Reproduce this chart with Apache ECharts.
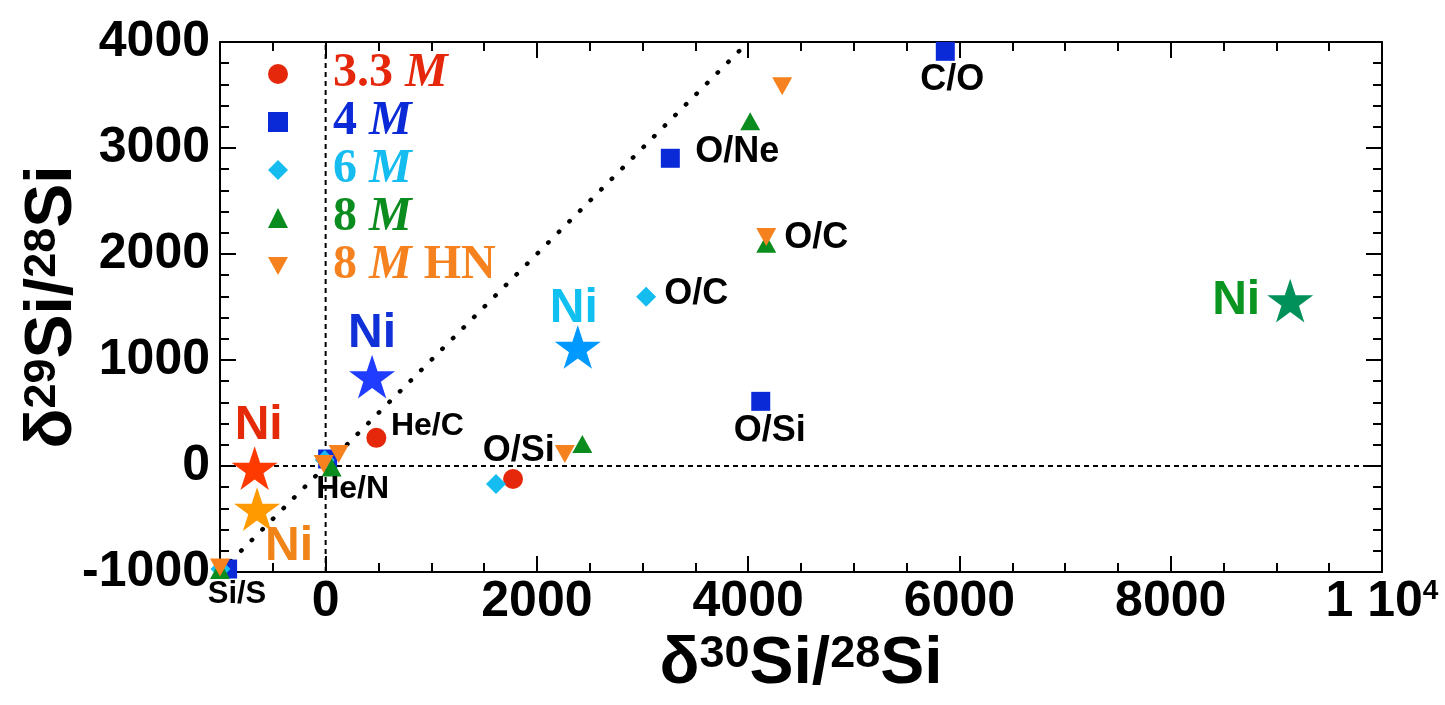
<!DOCTYPE html>
<html>
<head>
<meta charset="utf-8">
<script src="https://cdn.jsdelivr.net/npm/echarts@6/dist/echarts.min.js"></script>
<style>
  html, body { margin: 0; padding: 0; background: #fff; }
  #chart { width: 1445px; height: 705px; }
</style>
</head>
<body>
<div id="chart"></div>
<script>
// δ30Si / δ29Si (per mil) of the supernova zones for each progenitor model

const models = ['3.3 M', '4 M', '6 M', '8 M', '8 M HN'];

// zone compositions per model: x = δ30Si/28Si, y = δ29Si/28Si
const x33 = [480, 1774];
const y33 = [266, -123];
const zones33 = ['He/C', 'O/Si'];

const x4 = [19, 3263, 5866, 4119, -928];
const y4 = [66, 2903, 3912, 610, -972];
const zones4 = ['He/N', 'O/Ne', 'C/O', 'O/Si', 'Si/S'];

const x6 = [-9, 3034, 1613, -995];
const y6 = [57, 1597, -170, -972];
const zones6 = ['He/N', 'O/C', 'O/Si', 'Si/S'];

const x8 = [57, 4019, 4171, 2430, -1000];
const y8 = [-14, 3253, 2097, 208, -981];
const zones8 = ['He/N', 'O/Ne', 'O/C', 'O/Si', 'Si/S'];

const x8hn = [-19, 123, 4322, 4171, 2264, -1000];
const y8hn = [19, 113, 3582, 2160, 113, -958];
const zones8hn = ['He/N', 'He/C', 'O/Ne', 'O/C', 'O/Si', 'Si/S'];

// 56Ni-rich zone of each model
const niX = [-672, 440, 2387, 9131, -649];
const niY = [-19, 844, 1123, 1561, -406];

// axis ticks
const xTickLabels = [0, 2000, 4000, 6000, 8000, 10000];
const xMajorTicks = [0, 2000, 4000, 6000, 8000, 10000];
const yTickLabels = [-1000, 0, 1000, 2000, 3000, 4000];
const yMajorTicks = [-1000, 0, 1000, 2000, 3000, 4000];

// guide lines: δ29 = δ30, and the solar zero lines
const unityEnds = [-1000, 4000];

// ---- styling ----
const SANS = '"Liberation Sans", Arial, Helvetica, sans-serif';
const SERIF = '"Liberation Serif", "Times New Roman", serif';
const X_RANGE = [-1000, 10000];
const Y_RANGE = [-1000, 4000];

const markColors = ['#e5280b', '#0a2ad8', '#14bcef', '#0b8c1f', '#f5821e'];
const legendColors = ['#e5280b', '#0a2ad8', '#14bcef', '#0b8c1f', '#f5821e'];
const niStarColors = ['#ff3a00', '#1f3cff', '#0099ff', '#00915a', '#ff9a00'];
const niTextColors = ['#e52a0a', '#1030d8', '#10c0f0', '#0a9420', '#f08418'];
const niLabelOffsets = [[4, -42], [0, -43], [-4, -38], [-54, 0], [32, 38]];

// which zone names are printed, and where relative to their mark
const zoneLabelPlacement = {
  '3.3 M|He/C': { offset: [51, -12], size: 32 },
  '4 M|O/Ne': { offset: [67, -6], size: 36 },
  '4 M|C/O': { offset: [7, 29], size: 36 },
  '4 M|O/Si': { offset: [9, 30], size: 36 },
  '6 M|O/C': { offset: [50, -3], size: 36 },
  '8 M HN|O/C': { offset: [50, 1], size: 36 },
  '8 M HN|O/Si': { offset: [-46, -3], size: 36 },
  '8 M HN|He/N': { offset: [29, 25], size: 32 },
  '8 M HN|Si/S': { offset: [17, 27], size: 31 }
};

const DOWN_TRIANGLE = 'path://M0,0 L20,0 L10,18 Z';
const STAR = 'path://M50,0 L61.23,34.55 L97.55,34.55 L68.16,55.9 L79.39,90.45 L50,69.1 L20.61,90.45 L31.84,55.9 L2.45,34.55 L38.77,34.55 Z';

const seriesData = [
  { xs: x33, ys: y33, zones: zones33, symbol: 'circle', size: 20 },
  { xs: x4, ys: y4, zones: zones4, symbol: 'rect', size: 19 },
  { xs: x6, ys: y6, zones: zones6, symbol: 'diamond', size: 20 },
  { xs: x8, ys: y8, zones: zones8, symbol: 'triangle', size: [20, 18] },
  { xs: x8hn, ys: y8hn, zones: zones8hn, symbol: DOWN_TRIANGLE, size: [20, 18] }
];

function zonePoints(model, d) {
  return d.xs.map((x, i) => {
    const item = { value: [x, d.ys[i]], name: d.zones[i] };
    const place = zoneLabelPlacement[model + '|' + d.zones[i]];
    if (place) {
      item.label = {
        show: true,
        position: 'inside',
        offset: place.offset,
        formatter: d.zones[i],
        color: '#000',
        opacity: 1,
        fontFamily: SANS,
        fontWeight: 'bold',
        fontSize: place.size
      };
    }
    return item;
  });
}

const modelSeries = models.map((m, k) => ({
  name: m,
  type: 'scatter',
  clip: false,
  z: 5 + k,
  symbol: seriesData[k].symbol,
  symbolSize: seriesData[k].size,
  itemStyle: { color: markColors[k], opacity: 1 },
  emphasis: { disabled: true },
  data: zonePoints(m, seriesData[k])
}));

const niSeries = {
  name: 'Ni',
  type: 'scatter',
  clip: false,
  z: 12,
  symbol: STAR,
  symbolKeepAspect: true,
  symbolSize: 46,
  itemStyle: { opacity: 1 },
  emphasis: { disabled: true },
  data: niX.map((x, i) => ({
    value: [x, niY[i]],
    itemStyle: { color: niStarColors[i], opacity: 1 },
    label: {
      show: true,
      position: 'inside',
      offset: niLabelOffsets[i],
      formatter: 'Ni',
      color: niTextColors[i],
      opacity: 1,
      fontFamily: SANS,
      fontWeight: 'bold',
      fontSize: 48
    }
  }))
};

function guide(points, type, width, cap) {
  return {
    type: 'line',
    silent: true,
    z: 2,
    symbol: 'none',
    data: points,
    lineStyle: { color: '#000', width: width, type: type, cap: cap || 'butt' }
  };
}

const guides = [
  guide([[X_RANGE[0], 0], [X_RANGE[1], 0]], [5, 4], 2),
  guide([[0, Y_RANGE[0]], [0, Y_RANGE[1]]], [5, 4], 2),
  guide([[unityEnds[0], unityEnds[0]], [unityEnds[1], unityEnds[1]]], [0.5, 14.5], 4.5, 'round')
];

// legend text: model mass in bold serif, italic M
const legendParts = {
  '3.3 M': ['3.3 ', 'M', ''],
  '4 M': ['4 ', 'M', ''],
  '6 M': ['6 ', 'M', ''],
  '8 M': ['8 ', 'M', ''],
  '8 M HN': ['8 ', 'M', ' HN']
};
const legendRich = {};
models.forEach((m, k) => {
  const base = { color: legendColors[k], fontFamily: SERIF, fontWeight: 'bold', fontSize: 48, lineHeight: 45 };
  legendRich['a' + k] = Object.assign({}, base, { padding: [0, 0, 0, 40] });
  legendRich['b' + k] = Object.assign({}, base, { fontStyle: 'italic' });
  legendRich['c' + k] = Object.assign({}, base);
});

const tickFont = { color: '#000', fontFamily: SANS, fontWeight: 'bold', fontSize: 50 };
const titleRich = {
  d: { fontFamily: SANS, fontWeight: 'bold', fontSize: 66, lineHeight: 66, color: '#000' },
  m: { fontFamily: SANS, fontWeight: 'bold', fontSize: 66, lineHeight: 66, color: '#000' },
  s: { fontFamily: SANS, fontWeight: 'bold', fontSize: 45, lineHeight: 42, verticalAlign: 'top', color: '#000' }
};

function frameAxis(pos, range, step, majors, showLine, tickLen) {
  return {
    type: 'value',
    position: pos,
    min: range[0],
    max: range[1],
    interval: step,
    axisLine: { show: showLine, onZero: false, lineStyle: { color: '#000', width: 2 } },
    axisTick: majors
      ? { show: true, inside: true, length: tickLen, customValues: majors, lineStyle: { color: '#000', width: 2 } }
      : { show: true, inside: true, length: tickLen, lineStyle: { color: '#000', width: 2 } },
    axisLabel: { show: false },
    splitLine: { show: false }
  };
}

const xMain = frameAxis('bottom', X_RANGE, 500, null, true, 9);
xMain.axisLabel = Object.assign({
  show: true,
  margin: 5,
  customValues: xTickLabels,
  formatter: v => v === 10000 ? '{a|1 10}{p|4}' : '{a|' + v + '}',
  rich: {
    a: Object.assign({ lineHeight: 50 }, tickFont),
    p: Object.assign({}, tickFont, { fontSize: 28, lineHeight: 26, verticalAlign: 'top' })
  }
}, tickFont);
xMain.name = '{d|δ}{s|30}{m|Si/}{s|28}{m|Si}';
xMain.nameLocation = 'middle';
xMain.nameGap = 60;
xMain.nameMoveOverlap = false;
xMain.nameTextStyle = { rich: titleRich };

const yMain = frameAxis('left', Y_RANGE, 200, null, true, 9);
yMain.axisLabel = Object.assign({
  show: true,
  margin: 10,
  customValues: yTickLabels,
  formatter: v => String(v)
}, tickFont);
yMain.name = '{d|δ}{s|29}{m|Si/}{s|28}{m|Si}';
yMain.nameLocation = 'middle';
yMain.nameRotate = 90;
yMain.nameGap = 134;
yMain.nameMoveOverlap = false;
yMain.nameTextStyle = { rich: titleRich };

const option = {
  animation: false,
  backgroundColor: '#fff',
  grid: { left: 220, right: 63, top: 42, bottom: 133, containLabel: false },
  legend: {
    orient: 'vertical',
    left: 268,
    top: 50,
    padding: 0,
    itemWidth: 20,
    itemHeight: 20,
    itemGap: 0,
    selectedMode: false,
    data: models,
    formatter: name => {
      const k = models.indexOf(name);
      const p = legendParts[name];
      return '{a' + k + '|' + p[0] + '}{b' + k + '|' + p[1] + '}' + (p[2] ? '{c' + k + '|' + p[2] + '}' : '');
    },
    textStyle: { rich: legendRich }
  },
  xAxis: [
    xMain,
    frameAxis('bottom', X_RANGE, 500, xMajorTicks, false, 16),
    frameAxis('top', X_RANGE, 500, null, true, 9),
    frameAxis('top', X_RANGE, 500, xMajorTicks, false, 16)
  ],
  yAxis: [
    yMain,
    frameAxis('left', Y_RANGE, 200, yMajorTicks, false, 16),
    frameAxis('right', Y_RANGE, 200, null, true, 9),
    frameAxis('right', Y_RANGE, 200, yMajorTicks, false, 16)
  ],
  series: guides.concat(modelSeries, [niSeries])
};

const chart = echarts.init(document.getElementById('chart'), null, { renderer: 'canvas' });
chart.setOption(option);
</script>
</body>
</html>
